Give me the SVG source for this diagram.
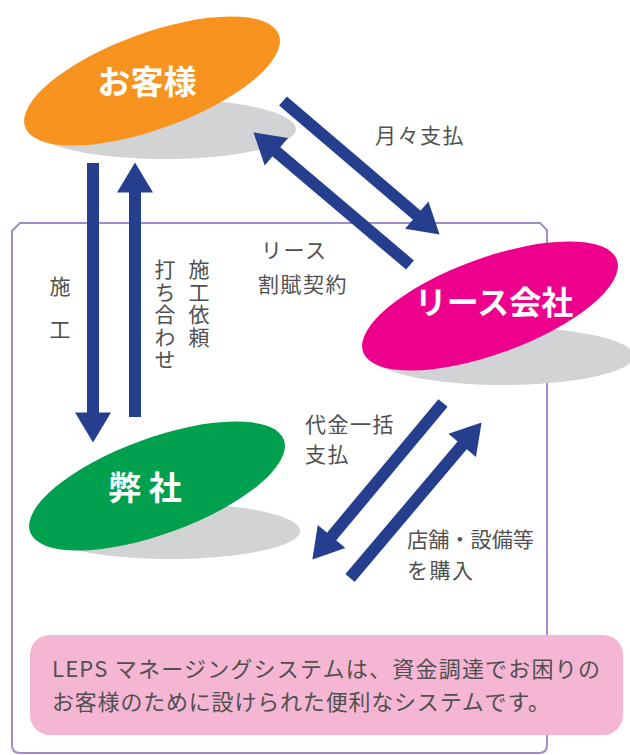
<svg xmlns="http://www.w3.org/2000/svg" width="630" height="755" viewBox="0 0 630 755">
<style>
.lbl{font-family:"Noto Sans CJK JP","Noto Sans",sans-serif;font-size:21px;fill:#505050;letter-spacing:1.5px}
.vt{writing-mode:vertical-rl;text-orientation:upright}
.title{font-family:"Noto Sans CJK JP","Noto Sans",sans-serif;font-weight:700;fill:#fff;text-anchor:middle}
.shadow{fill:#d1d3d4}
.arrow{stroke:#253f8e;stroke-width:12;fill:none;marker-end:url(#head)}
.note{font-family:"Noto Sans CJK JP","Noto Sans",sans-serif;font-size:22px;fill:#505050}
</style>
<defs>
<marker id="head" markerUnits="strokeWidth" markerWidth="3" markerHeight="3.2" viewBox="0 -1.6 2.6 3.2" refX="0.05" refY="0" orient="auto" overflow="visible">
<path d="M0,-1.5 L2.5,0 L0,1.5 Z" fill="#253f8e"/>
</marker>
</defs>
<rect width="630" height="755" fill="#fff"/>
<path id="frame" d="M12,231 L20,223 L540,223 L547,230 L547,745 Q547,753 539,753 L20,753 Q12,753 12,745 Z" fill="none" stroke="#a08cc6" stroke-width="2"/>

<g id="customer">
<ellipse class="shadow" cx="165" cy="129" rx="131" ry="30"/>
<ellipse cx="152" cy="81" rx="135" ry="48" transform="rotate(-20 152 81)" fill="#f7931e"/>
<text class="title" x="147" y="94" font-size="33">お客様</text>
</g>

<g id="lease">
<ellipse class="shadow" cx="503" cy="356" rx="131" ry="29"/>
<ellipse cx="490" cy="306" rx="135" ry="48" transform="rotate(-20 490 306)" fill="#ec008c"/>
<text class="title" x="494" y="314" font-size="32">リース会社</text>
</g>

<g id="company">
<ellipse class="shadow" cx="170" cy="531" rx="130" ry="28"/>
<ellipse cx="157" cy="486" rx="135" ry="48" transform="rotate(-20 157 486)" fill="#00a04e"/>
<text class="title" x="145" y="500" font-size="33">弊 社</text>
</g>

<g id="connectors">
<line class="arrow" x1="93" y1="163" x2="93" y2="413"/>
<line class="arrow" x1="135" y1="417" x2="135" y2="192"/>
<line class="arrow" x1="283" y1="101" x2="417.2" y2="215.5"/>
<line class="arrow" x1="410" y1="265" x2="275.9" y2="151.4"/>
<line class="arrow" x1="443" y1="403" x2="331.2" y2="537"/>
<line class="arrow" x1="350" y1="578" x2="462.6" y2="444.9"/>
</g>

<g id="labels">
<text class="lbl vt" x="60" y="276" style="letter-spacing:22px">施工</text>
<text class="lbl vt" x="199" y="259">施工依頼</text>
<text class="lbl vt" x="165" y="259">打ち合わせ</text>
<text class="lbl" x="375" y="143">月々支払</text>
<text class="lbl" x="261" y="258">リース</text>
<text class="lbl" x="258" y="292">割賦契約</text>
<text class="lbl" x="305" y="432">代金一括</text>
<text class="lbl" x="305" y="462">支払</text>
<text class="lbl" x="407" y="547" style="letter-spacing:0" textLength="127" lengthAdjust="spacingAndGlyphs">店舗・設備等</text>
<text class="lbl" x="407" y="578">を購入</text>
</g>

<g id="note">
<rect x="30" y="635" width="593" height="100" rx="20" fill="#f4b6d3"/>
<text class="note" x="52" y="677" textLength="548" lengthAdjust="spacing">LEPS マネージングシステムは、資金調達でお困りの</text>
<text class="note" x="52" y="710" textLength="498" lengthAdjust="spacing">お客様のために設けられた便利なシステムです。</text>
</g>
</svg>
